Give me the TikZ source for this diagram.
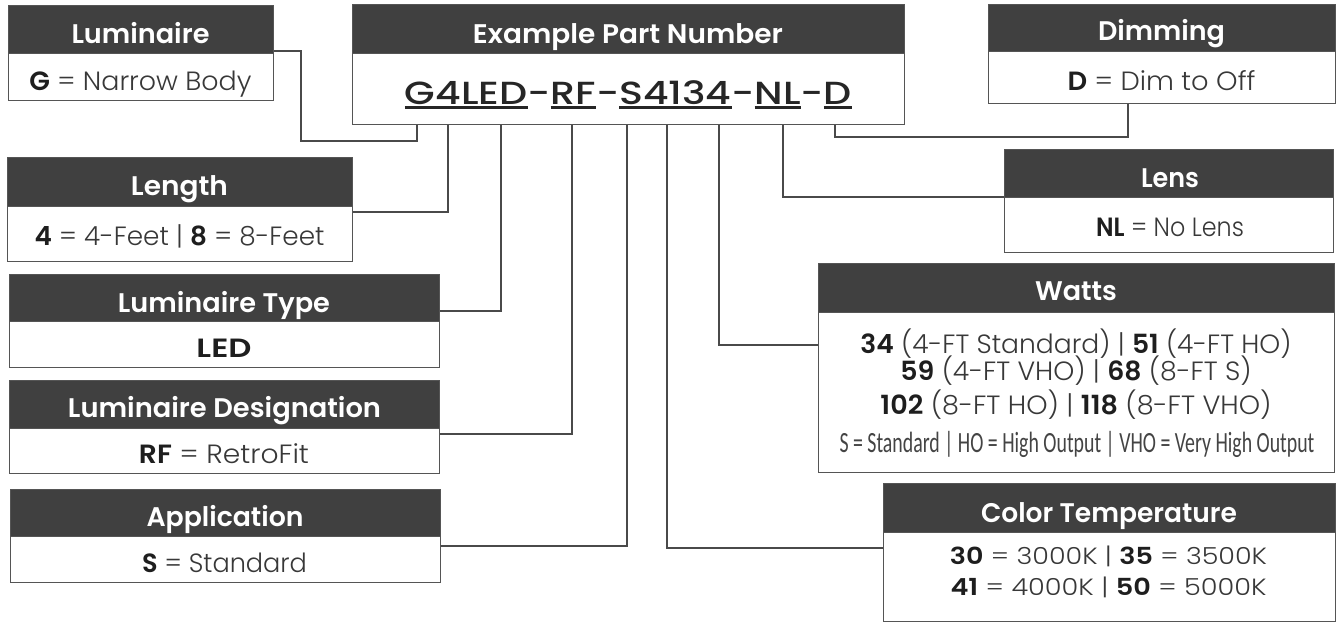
\documentclass[tikz,border=0pt]{standalone}
\usepackage{fontspec}
\usepackage{graphicx}
\usetikzlibrary{fit}
\setmainfont{Poppins}
\IfFontExistsTF{Poppins Light}{\newfontfamily\lightf{Poppins Light}}{\newfontfamily\lightf{Poppins}}
\IfFontExistsTF{Poppins SemiBold}{\newfontfamily\semif{Poppins SemiBold}}{\newcommand\semif{\bfseries}}
\IfFontExistsTF{Poppins Medium}{\newfontfamily\medf{Poppins Medium}}{\newcommand\medf{\rmfamily}}
\newfontfamily\condf{Carlito}
\newlength\pxu
\setlength\pxu{0.75pt}
\newcommand\fw[2]{\resizebox{#1\pxu}{\height}{#2}}
\newcommand\bnum[1]{{\semif\color{boldc}#1}}
\newcommand\ulseg[1]{\setbox0\hbox{#1}\rlap{\rule[-5\pxu]{\wd0}{2.6\pxu}}\box0}
\definecolor{hdrc}{HTML}{404040}
\definecolor{bordc}{HTML}{555555}
\definecolor{connc}{HTML}{4A4A4A}
\definecolor{txtc}{HTML}{383838}
\definecolor{fntc}{HTML}{444444}
\definecolor{boldc}{HTML}{1E1E1E}
\definecolor{pnc}{HTML}{262626}
\tikzset{
  hdr/.style={fill=hdrc, draw=bordc, line width=0.75pt, inner sep=0pt},
  bdy/.style={fill=white, draw=bordc, line width=0.75pt, inner sep=0pt},
  ht/.style={text=white, inner sep=0pt, anchor=base, font=\semif\fontsize{20.2}{20}\selectfont},
  bt/.style={text=txtc, inner sep=0pt, anchor=base, font=\lightf\fontsize{19.8}{20}\selectfont},
  ctt/.style={text=txtc, inner sep=0pt, anchor=base, font=\lightf\fontsize{17.6}{18}\selectfont},
  fnt/.style={text=fntc, inner sep=0pt, anchor=base, font=\condf\fontsize{22}{22}\selectfont},
  pnt/.style={text=pnc, inner sep=0pt, anchor=base, font=\medf\fontsize{24}{24}\selectfont},
  conn/.style={draw=connc, line width=1pt}
}
\begin{document}
\begin{tikzpicture}[x=0.75pt,y=-0.75pt]
\useasboundingbox (0,0) rectangle (1340,622);
\fill[white] (0,0) rectangle (1340,622);

% tap points on the part number box
\coordinate (tG) at (417,124);
\coordinate (tL) at (448,124);
\coordinate (tLED) at (501,124);
\coordinate (tRF) at (572,124);
\coordinate (tS) at (627,124);
\coordinate (tCT) at (667,124);
\coordinate (tW) at (719,124);
\coordinate (tN) at (783,124);
\coordinate (tD) at (835,124);

% connectors (drawn first, boxes on top)
\draw[conn] (273,51) coordinate (lumC) -- ++(28,0) -- ++(0,90) -| (tG);
\draw[conn] (352,212) coordinate (lenC) -| (tL);
\draw[conn] (439,311) coordinate (ltC) -| (tLED);
\draw[conn] (439,434) coordinate (ldC) -| (tRF);
\draw[conn] (440,546) coordinate (apC) -| (tS);
\draw[conn] (883,548) coordinate (ctC) -| (tCT);
\draw[conn] (818,345) coordinate (wC) -| (tW);
\draw[conn] (1004,197) coordinate (lnC) -| (tN);
\draw[conn] (1128,103) coordinate (dmC) -- ++(0,34) -| (tD);

% Luminaire
\node[bdy, fit={(8,53)(273,100)}] (lumB) {};
\node[hdr, fit={(8,5)(273,53)}] (lumH) {};
\node[ht] (lumHt) at (140.5,43) {\fw{138}{Luminaire}};
\node[bt] (lumBt) at (140.5,90) {\fw{222}{\bnum{G} = Narrow Body}};

% Example part number
\node[bdy, fit={(352,53)(904,124)}] (pnB) {};
\node[hdr, fit={(352,4)(904,53)}] (pnH) {};
\node[ht] (pnHt) at (628,43) {\fw{310}{Example Part Number}};
\node[pnt] (pnBt) at (628.5,104) {\fw{447}{\ulseg{G4}\ulseg{LED}-\ulseg{RF}-\ulseg{S4134}-\ulseg{NL}-\ulseg{D}}};

% Dimming
\node[bdy, fit={(988,51)(1335,103)}] (dmB) {};
\node[hdr, fit={(988,4)(1335,51)}] (dmH) {};
\node[ht] (dmHt) at (1161.5,40) {\fw{127}{Dimming}};
\node[bt] (dmBt) at (1161.5,90) {\fw{188}{\bnum{D} = Dim to Off}};

% Length
\node[bdy, fit={(7,206)(352,261)}] (lenB) {};
\node[hdr, fit={(7,157)(352,206)}] (lenH) {};
\node[ht] (lenHt) at (179.5,195) {\fw{97}{Length}};
\node[bt] (lenBt) at (179.5,245) {\fw{290}{\bnum{4} = 4-Feet | \bnum{8} = 8-Feet}};

% Lens
\node[bdy, fit={(1004,197)(1333,252)}] (lnB) {};
\node[hdr, fit={(1004,149)(1333,197)}] (lnH) {};
\node[ht] (lnHt) at (1170,187) {\fw{58}{Lens}};
\node[bt] (lnBt) at (1170,236) {\fw{148}{\bnum{NL} = No Lens}};

% Luminaire Type
\node[bdy, fit={(9,321)(439,367)}] (ltB) {};
\node[hdr, fit={(9,274)(439,321)}] (ltH) {};
\node[ht] (ltHt) at (224,312) {\fw{212}{Luminaire Type}};
\node[bt] (ltBt) at (224,357) {\fw{55}{\bnum{LED}}};

% Watts
\node[bdy, fit={(818,312)(1334,472)}] (wB) {};
\node[hdr, fit={(818,263)(1334,312)}] (wH) {};
\node[ht] (wHt) at (1076,300) {\fw{82}{Watts}};
\node[bt] (wL1) at (1076,353) {\fw{431}{\bnum{34} (4-FT Standard) | \bnum{51} (4-FT HO)}};
\node[bt] (wL2) at (1076,380) {\fw{351}{\bnum{59} (4-FT VHO) | \bnum{68} (8-FT S)}};
\node[bt] (wL3) at (1076,414) {\fw{391}{\bnum{102} (8-FT HO) | \bnum{118} (8-FT VHO)}};
\node[fnt] (wL4) at (1077,452) {\fw{475}{S = Standard | HO = High Output | VHO = Very High Output}};

% Luminaire Designation
\node[bdy, fit={(9,428)(439,473)}] (ldB) {};
\node[hdr, fit={(9,380)(439,428)}] (ldH) {};
\node[ht] (ldHt) at (224.5,417) {\fw{313}{Luminaire Designation}};
\node[bt] (ldBt) at (224,463) {\fw{170}{\bnum{RF} = RetroFit}};

% Application
\node[bdy, fit={(10,536)(440,582)}] (apB) {};
\node[hdr, fit={(10,489)(440,536)}] (apH) {};
\node[ht] (apHt) at (225,526) {\fw{157}{Application}};
\node[bt] (apBt) at (224.5,572) {\fw{165}{\bnum{S} = Standard}};

% Color Temperature
\node[bdy, fit={(883,532)(1335,621)}] (ctB) {};
\node[hdr, fit={(883,483)(1335,532)}] (ctH) {};
\node[ht] (ctHt) at (1109,522) {\fw{256}{Color Temperature}};
\node[ctt] (ctL1) at (1108.5,564) {\fw{317}{\bnum{30} = 3000K | \bnum{35} = 3500K}};
\node[ctt] (ctL2) at (1108.5,595) {\fw{316}{\bnum{41} = 4000K | \bnum{50} = 5000K}};
\end{tikzpicture}
\end{document}
